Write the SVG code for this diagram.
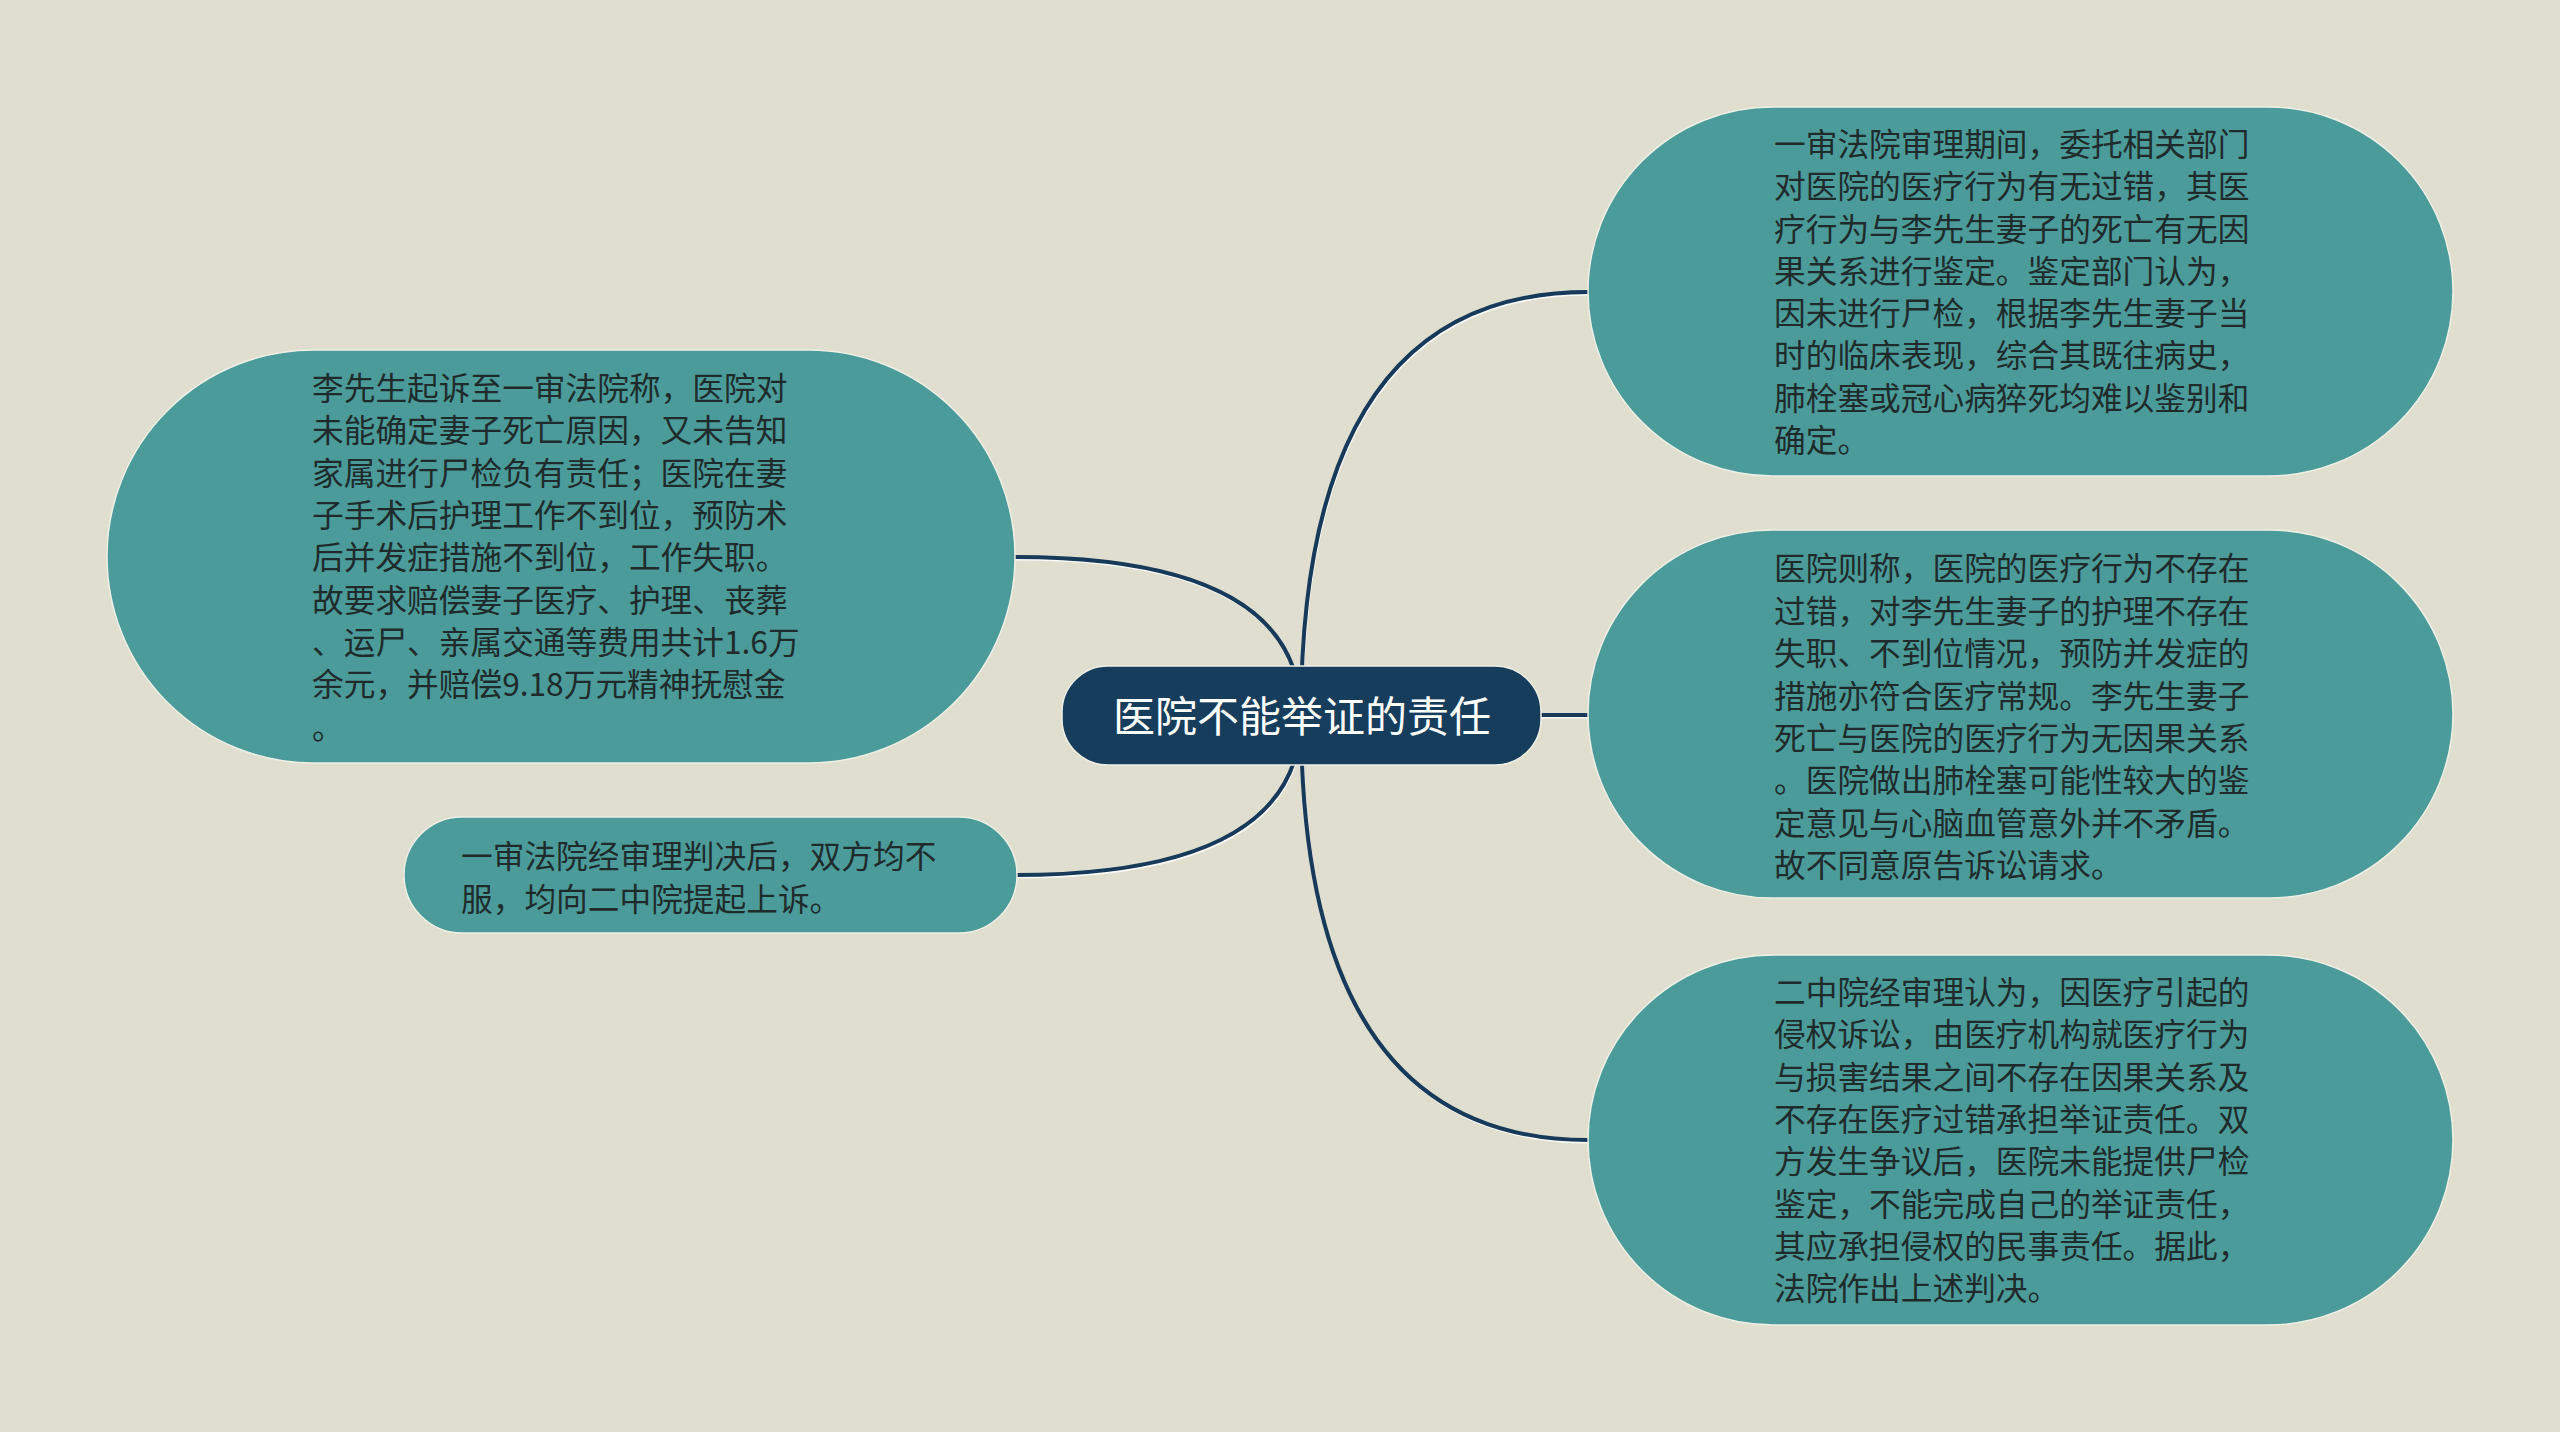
<svg xmlns="http://www.w3.org/2000/svg" width="2560" height="1432" viewBox="0 0 2560 1432">
<defs>
<style>
.bg{fill:#dfdecf}
.conn{fill:none;stroke:#173a5a;stroke-width:4;stroke-linecap:round}
.hl{fill:none;stroke:#ffffff;stroke-width:3;stroke-opacity:0.85}
.topic{fill:#4b9b9a;stroke:#eef0e6;stroke-width:1.5}
.root{fill:#173d5c;stroke:#eef0e6;stroke-width:1.5}
.t{font-family:"Noto Sans CJK SC","Noto Sans",sans-serif;font-size:31.7px;fill:#1f2b2b;dominant-baseline:central}
.rt{font-family:"Noto Sans CJK SC","Noto Sans",sans-serif;font-size:42px;fill:#ffffff;dominant-baseline:central;text-anchor:middle}
</style>
</defs>
<rect class="bg" x="0" y="0" width="2560" height="1432"/>
<g id="connectors">
<g transform="translate(1,2)">
<path class="hl" d="M1301 716 Q1301 292 1588 292"/>
<path class="hl" d="M1301 715 L1588 715"/>
<path class="hl" d="M1301 716 Q1301 1140 1588 1140"/>
<path class="hl" d="M1301 716 Q1301 557 1015 557"/>
<path class="hl" d="M1301 716 Q1301 875 1015 875"/>
</g>
<path class="conn" d="M1301 716 Q1301 292 1588 292"/>
<path class="conn" d="M1301 715 L1588 715"/>
<path class="conn" d="M1301 716 Q1301 1140 1588 1140"/>
<path class="conn" d="M1301 716 Q1301 557 1015 557"/>
<path class="conn" d="M1301 716 Q1301 875 1015 875"/>
</g>
<g id="root">
<rect class="root" x="1062" y="666" width="479" height="99" rx="46"/>
<text class="rt" x="1302" y="713">医院不能举证的责任</text>
</g>
<g id="node-appraisal">
<rect class="topic" x="1588" y="107" width="865" height="369" rx="184.5"/>
<text class="t" x="1774"><tspan x="1774" y="142">一审法院审理期间，委托相关部门</tspan><tspan x="1774" y="184">对医院的医疗行为有无过错，其医</tspan><tspan x="1774" y="226.5">疗行为与李先生妻子的死亡有无因</tspan><tspan x="1774" y="269">果关系进行鉴定。鉴定部门认为，</tspan><tspan x="1774" y="311">因未进行尸检，根据李先生妻子当</tspan><tspan x="1774" y="353">时的临床表现，综合其既往病史，</tspan><tspan x="1774" y="395.5">肺栓塞或冠心病猝死均难以鉴别和</tspan><tspan x="1774" y="438">确定。</tspan></text>
</g>
<g id="node-hospital">
<rect class="topic" x="1588" y="530" width="865" height="368" rx="184"/>
<text class="t" x="1774"><tspan x="1774" y="566">医院则称，医院的医疗行为不存在</tspan><tspan x="1774" y="608.5">过错，对李先生妻子的护理不存在</tspan><tspan x="1774" y="651">失职、不到位情况，预防并发症的</tspan><tspan x="1774" y="693.5">措施亦符合医疗常规。李先生妻子</tspan><tspan x="1774" y="736">死亡与医院的医疗行为无因果关系</tspan><tspan x="1774" y="778">。医院做出肺栓塞可能性较大的鉴</tspan><tspan x="1774" y="820.5">定意见与心脑血管意外并不矛盾。</tspan><tspan x="1774" y="863">故不同意原告诉讼请求。</tspan></text>
</g>
<g id="node-second">
<rect class="topic" x="1588" y="955" width="865" height="370" rx="185"/>
<text class="t" x="1774"><tspan x="1774" y="990">二中院经审理认为，因医疗引起的</tspan><tspan x="1774" y="1032">侵权诉讼，由医疗机构就医疗行为</tspan><tspan x="1774" y="1074.5">与损害结果之间不存在因果关系及</tspan><tspan x="1774" y="1117">不存在医疗过错承担举证责任。双</tspan><tspan x="1774" y="1159">方发生争议后，医院未能提供尸检</tspan><tspan x="1774" y="1201.5">鉴定，不能完成自己的举证责任，</tspan><tspan x="1774" y="1244">其应承担侵权的民事责任。据此，</tspan><tspan x="1774" y="1286">法院作出上述判决。</tspan></text>
</g>
<g id="node-claim">
<rect class="topic" x="107" y="350" width="908" height="413" rx="206.5"/>
<text class="t" x="312"><tspan x="312" y="386">李先生起诉至一审法院称，医院对</tspan><tspan x="312" y="428">未能确定妻子死亡原因，又未告知</tspan><tspan x="312" y="470.5">家属进行尸检负有责任；医院在妻</tspan><tspan x="312" y="513">子手术后护理工作不到位，预防术</tspan><tspan x="312" y="555">后并发症措施不到位，工作失职。</tspan><tspan x="312" y="597.5">故要求赔偿妻子医疗、护理、丧葬</tspan><tspan x="312" y="640">、运尸、亲属交通等费用共计1.6万</tspan><tspan x="312" y="682">余元，并赔偿9.18万元精神抚慰金</tspan><tspan x="312" y="724.5">。</tspan></text>
</g>
<g id="node-appeal">
<rect class="topic" x="404" y="817" width="613" height="116" rx="58"/>
<text class="t" x="461"><tspan x="461" y="854">一审法院经审理判决后，双方均不</tspan><tspan x="461" y="897">服，均向二中院提起上诉。</tspan></text>
</g>
</svg>
